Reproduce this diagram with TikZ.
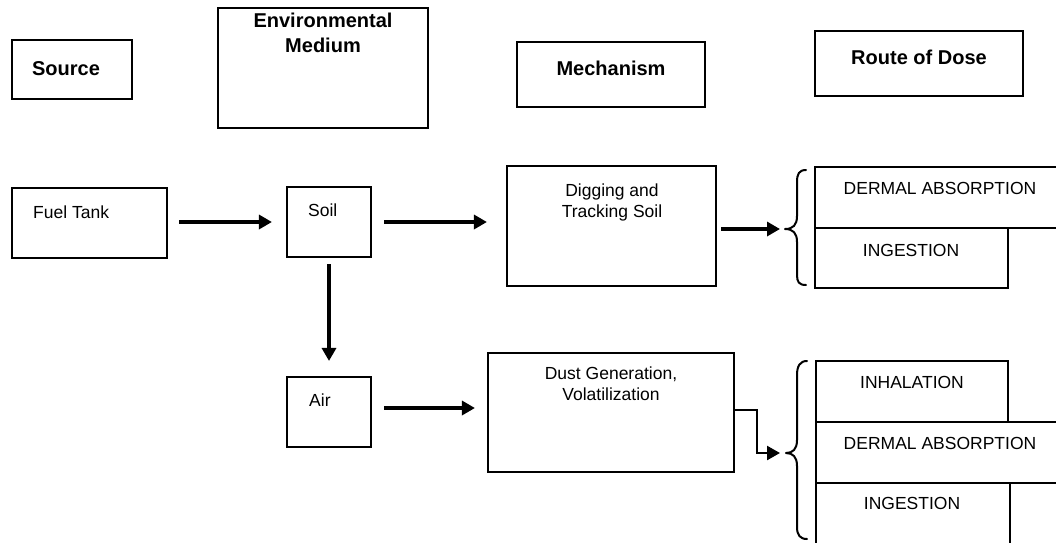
\documentclass[tikz,border=0pt]{standalone}
\usepackage{fontspec}
\setmainfont{Liberation Sans}
\usetikzlibrary{arrows.meta,fit}
\begin{document}
\begin{tikzpicture}[x=1pt,y=-1pt,
  box/.style={draw, line width=2.1pt, inner sep=0pt},
  txt/.style={font=\fontsize{17.5}{21}\selectfont, anchor=base, inner sep=0pt},
  hdr/.style={font=\bfseries\fontsize{20}{24}\selectfont, anchor=base, inner sep=0pt},
  arr/.style={line width=3.2pt, -{Triangle[length=13pt,width=14pt]}},
  brace/.style={line width=2pt, line cap=round, line join=round}]
\clip (0,0) rectangle (1056,542);
\fill[white] (0,0) rectangle (1056,542);
% headers
\node[box, fit={(12,40) (132,99)}] (hsrc) {};
\node[hdr] (tsrc) at (66,75) {Source};
\node[box, fit={(218,8) (428,128)}] (henv) {};
\node[hdr] (tenv1) at (323,27) {Environmental};
\node[hdr] (tenv2) at (323,52) {Medium};
\node[box, fit={(517,42) (705,107)}] (hmech) {};
\node[hdr] (tmech) at (611,75) {Mechanism};
\node[box, fit={(815,31) (1023,96)}] (hroute) {};
\node[hdr] (troute) at (919,64) {Route of Dose};
% source / medium
\node[box, fit={(12,188) (167,258)}] (fuel) {};
\node[txt, anchor=base west] (tfuel) at (33,218) {Fuel Tank};
\node[box, fit={(287,187) (371,257)}] (soil) {};
\node[txt, anchor=base west] (tsoil) at (308,216) {Soil};
\node[box, fit={(287,377) (371,447)}] (air) {};
\node[txt, anchor=base west] (tair) at (309,406) {Air};
% mechanisms
\node[box, fit={(507,166) (716,286)}] (dig) {};
\node[txt] (tdig1) at (612,196) {Digging and};
\node[txt] (tdig2) at (612,217) {Tracking Soil};
\node[box, fit={(488,353) (734,472)}] (dust) {};
\node[txt] (tdust1) at (611,379) {Dust Generation,};
\node[txt] (tdust2) at (611,400) {Volatilization};
% routes, upper
\node[box, fit={(815,167) (1066,228)}] (rd1) {};
\node[txt] (trd1) at (940,194) {DERMAL ABSORPTION};
\node[box, fit={(815,228) (1008,288)}] (ri1) {};
\node[txt] (tri1) at (911,256) {INGESTION};
% routes, lower
\node[box, fit={(816,361) (1008,422)}] (rh2) {};
\node[txt] (trh2) at (912,388) {INHALATION};
\node[box, fit={(816,422) (1066,483)}] (rd2) {};
\node[txt] (trd2) at (940,449) {DERMAL ABSORPTION};
\node[box, fit={(816,483) (1010,548)}] (ri2) {};
\node[txt] (tri2) at (912,509) {INGESTION};
% braces
\coordinate (b1tip) at (785,229);
\draw[brace] (806,170) .. controls (799,170) and (797,174) .. (797,182)
  -- (797,216) .. controls (797,225) and (793,229) .. (b1tip)
  .. controls (793,229) and (797,233) .. (797,242)
  -- (797,275) .. controls (797,282) and (799,285) .. (806,285);
\coordinate (b2tip) at (786,453);
\draw[brace] (807,361) .. controls (800,361) and (797,366) .. (797,375)
  -- (797,440) .. controls (797,449) and (793,453) .. (b2tip)
  .. controls (793,453) and (797,457) .. (797,466)
  -- (797,527) .. controls (797,535) and (800,539) .. (807,539);
% connectors
\draw[arr, shorten <=11pt, shorten >=14pt] (fuel.east |- 0,222) -- (soil.west |- 0,222);
\draw[arr, shorten <=12pt, shorten >=19pt] (soil.east |- 0,222) -- (dig.west |- 0,222);
\draw[arr, shorten <=6pt, shorten >=15pt] (soil.south) -- (soil.south |- air.north);
\draw[arr, shorten <=12pt, shorten >=12pt] (air.east |- 0,408) -- (dust.west |- 0,408);
\draw[arr, shorten <=4pt, shorten >=5pt] (dig.east |- b1tip) -- (b1tip);
\draw[line width=2.4pt, line join=miter, -{Triangle[length=13pt,width=14pt]}, shorten >=6pt]
  (dust.east |- 0,410) -- (757,410) |- (b2tip);
\end{tikzpicture}
\end{document}
